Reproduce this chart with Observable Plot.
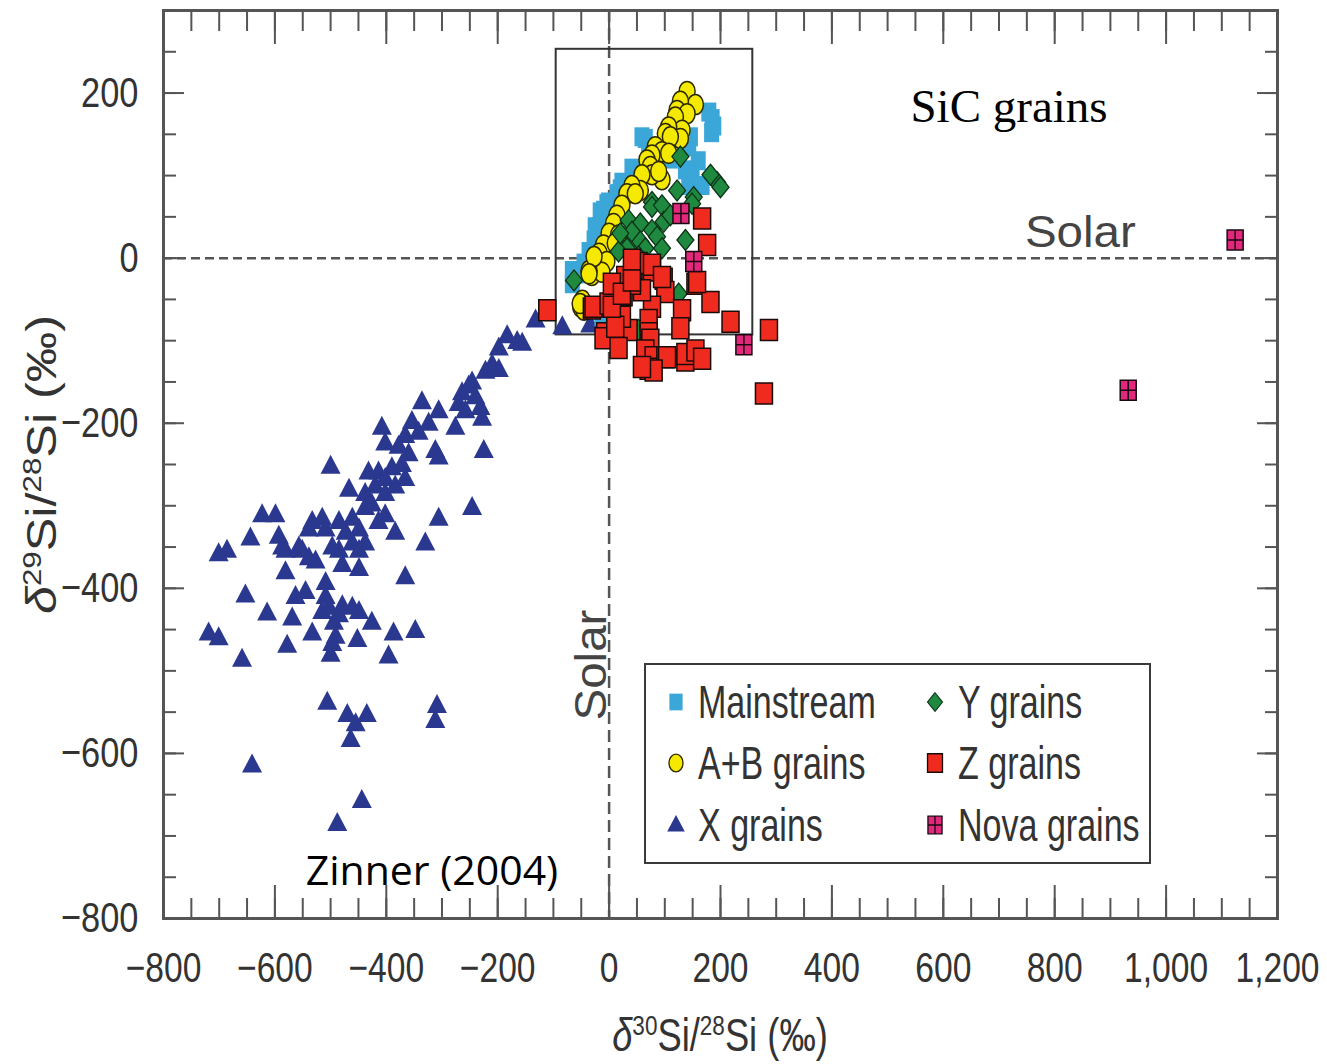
<!DOCTYPE html>
<html><head><meta charset="utf-8">
<script src="https://cdn.jsdelivr.net/npm/d3@7"></script>
<script src="https://cdn.jsdelivr.net/npm/@observablehq/plot@0.6"></script>
<style>
body{margin:0;background:#fff;}
#wrap{position:relative;width:1327px;height:1064px;background:#fff;}
#legend{position:absolute;left:644px;top:663px;width:507px;height:201px;box-sizing:border-box;border:2.5px solid #3a3a3a;background:#fff;font-family:"Liberation Sans",Arial,sans-serif;color:#333;}
.sw{position:absolute;width:30px;height:30px;}
.lt{position:absolute;font-size:46px;line-height:46px;white-space:nowrap;transform:scaleX(0.74);transform-origin:left center;}
#xtitle{position:absolute;left:720px;top:1035px;font-family:"Liberation Sans",Arial,sans-serif;font-size:46px;line-height:46px;color:#333;white-space:nowrap;transform:translate(-50%,-50%) scaleX(0.79);}
#xtitle sup{font-size:0.62em;vertical-align:0.55em;line-height:0;}
</style></head>
<body><div id="wrap"></div>
<script>
// ---- data (δ30Si/28Si, δ29Si/28Si in ‰) ----
const mainstream = [[185,169],[188,160],[179,177],[184,152],[146,147],[143,135],[65,145],[71,135],[59,147],[41,109],[137,107],[149,97],[143,88],[167,88],[20,84],[23,92],[14,78],[-1,68],[17,78],[-4,66],[-13,50],[-18,38],[-16,56],[-10,58],[-25,38],[-27,22],[-36,8],[-45,-6],[-54,-19],[-60,-19],[-66,-31],[-66,-15],[-13,-71],[110,120],[160,118]];
const abGrains = [[140,202],[155,186],[128,190],[122,179],[140,175],[119,171],[131,155],[107,159],[128,145],[101,151],[110,147],[83,135],[95,129],[77,125],[68,119],[107,127],[74,111],[95,95],[77,101],[59,101],[56,82],[41,88],[32,78],[89,105],[47,78],[23,64],[14,52],[8,42],[0,30],[-10,16],[-18,6],[-25,-8],[-31,-21],[17,28],[11,18],[-4,-4],[-13,-17],[-36,-15],[-27,2],[-36,-19],[-48,-51],[-51,-59],[-45,-63],[-52,-55]];
const xGrains = [[-132,-75],[-84,-83],[-34,-81],[-156,-103],[-183,-94],[-165,-101],[-198,-109],[-210,-129],[-198,-135],[-222,-137],[-252,-155],[-264,-163],[-240,-168],[-231,-181],[-270,-176],[-246,-150],[-258,-185],[-228,-194],[-276,-205],[-225,-233],[-336,-174],[-306,-185],[-354,-198],[-324,-200],[-342,-211],[-366,-215],[-408,-205],[-402,-224],[-378,-228],[-312,-233],[-306,-241],[-360,-237],[-372,-250],[-390,-254],[-414,-259],[-432,-259],[-402,-267],[-366,-267],[-420,-276],[-438,-285],[-402,-285],[-384,-276],[-500,-252],[-467,-280],[-246,-302],[-306,-315],[-330,-345],[-426,-298],[-402,-311],[-414,-319],[-438,-302],[-461,-315],[-449,-328],[-473,-332],[-485,-319],[-461,-345],[-438,-345],[-449,-354],[-485,-354],[-497,-350],[-509,-328],[-515,-315],[-533,-319],[-539,-328],[-384,-332],[-623,-311],[-599,-311],[-644,-339],[-593,-337],[-587,-350],[-581,-354],[-701,-358],[-686,-354],[-551,-354],[-539,-363],[-527,-367],[-557,-350],[-479,-371],[-449,-376],[-581,-380],[-366,-386],[-653,-408],[-614,-430],[-563,-410],[-545,-404],[-509,-393],[-509,-410],[-503,-423],[-569,-436],[-515,-428],[-479,-421],[-461,-423],[-485,-432],[-449,-428],[-426,-441],[-494,-441],[-491,-458],[-533,-454],[-497,-467],[-387,-454],[-348,-451],[-719,-454],[-701,-460],[-578,-469],[-452,-462],[-659,-486],[-500,-480],[-396,-482],[-506,-538],[-470,-553],[-435,-553],[-455,-564],[-464,-583],[-309,-542],[-312,-560],[-641,-614],[-444,-657],[-488,-685]];
const yGrains = [[128,123],[194,92],[182,101],[200,86],[122,82],[152,74],[77,68],[149,66],[77,62],[95,64],[35,46],[56,42],[98,44],[77,34],[41,32],[86,26],[137,22],[56,20],[95,12],[32,12],[65,12],[17,8],[53,2],[-63,-27],[125,-43],[53,-87],[110,52],[20,30]];
const zGrains = [[-111,-63],[-31,-61],[-28,-59],[44,-12],[77,-15],[98,-25],[101,-41],[155,-31],[182,-53],[131,-63],[77,-59],[11,-51],[26,-45],[-1,-55],[17,-75],[35,-87],[-7,-91],[-10,-97],[17,-109],[71,-75],[71,-91],[74,-99],[65,-112],[80,-120],[71,-134],[101,-120],[104,-120],[128,-85],[137,-124],[137,-116],[155,-112],[167,-122],[218,-77],[287,-87],[278,-164],[59,-39],[53,-6],[29,-23],[5,-31],[41,-31],[23,-71],[11,-83],[167,48],[176,16],[41,-2],[77,-8],[95,-23],[158,-29],[80,-136],[59,-132],[5,-59],[23,-43],[41,-27]];
const novaGrains = [[129,54],[152,-4],[242,-105],[1124,22],[932,-160]];
const solarBox = [{x1:-95, x2:258, y1:-93, y2:253}];
const minorTicksX = d3.range(-800, 1201, 50);
const majorTicksX = d3.range(-800, 1201, 200);
const minorTicksY = d3.range(-800, 301, 50);
const majorTicksY = d3.range(-800, 201, 200);
const solarLabels = [{text:"Solar", x:846, y:30, rotate:0}, {text:"Solar", x:-30, y:-493, rotate:-90}];
const titleNote = [{text:"SiC grains", x:718, y:183}];
const sourceNote = [{text:"Zinner (2004)", x:-318, y:-744}];
const xTitleParts = [["δ","i"],["30","sup"],["Si/",""],["28","sup"],["Si (‰)",""]];
const yTitle = ["δ29Si/28Si (‰)"];
const legendItems = [
  {label:"Mainstream", key:"ms", col:0, row:0},
  {label:"A+B grains", key:"ab", col:0, row:1},
  {label:"X grains", key:"x", col:0, row:2},
  {label:"Y grains", key:"y", col:1, row:0},
  {label:"Z grains", key:"z", col:1, row:1},
  {label:"Nova grains", key:"nova", col:1, row:2}
];

// ---- marker shapes ----
const symSquare = {draw(c){ c.rect(-7.5,-9.5,15,19); }};
const symEllipse = {draw(c){ const rx=8, ry=10, k=0.5523; c.moveTo(rx,0); c.bezierCurveTo(rx,ry*k,rx*k,ry,0,ry); c.bezierCurveTo(-rx*k,ry,-rx,ry*k,-rx,0); c.bezierCurveTo(-rx,-ry*k,-rx*k,-ry,0,-ry); c.bezierCurveTo(rx*k,-ry,rx,-ry*k,rx,0); c.closePath(); }};
const symTriangle = {draw(c){ c.moveTo(0,-11.5); c.lineTo(10,7.5); c.lineTo(-10,7.5); c.closePath(); }};
const symDiamond = {draw(c){ c.moveTo(0,-10.5); c.lineTo(8.5,0); c.lineTo(0,10.5); c.lineTo(-8.5,0); c.closePath(); }};
const symRect = {draw(c){ c.rect(-8.5,-10.5,17,21); }};
const symNova = {draw(c){ c.rect(-8,-10,16,20); c.moveTo(0,-10); c.lineTo(0,10); c.moveTo(-8,0); c.lineTo(8,0); }};
const styles = {
  ms:{symbol:symSquare, fill:"#3ba7d8", stroke:"none", strokeWidth:0},
  ab:{symbol:symEllipse, fill:"#f5e900", stroke:"#2e2a00", strokeWidth:1.5},
  x:{symbol:symTriangle, fill:"#2b388f", stroke:"none", strokeWidth:0},
  y:{symbol:symDiamond, fill:"#1f8a3f", stroke:"#0c3318", strokeWidth:1.3},
  z:{symbol:symRect, fill:"#ee2b1e", stroke:"#1a0a08", strokeWidth:1.5},
  nova:{symbol:symNova, fill:"#e2287c", stroke:"#1a0a10", strokeWidth:1.5}
};
const pt = (key) => ({x: d => d[0], y: d => d[1], symbol: styles[key].symbol, fill: styles[key].fill, stroke: styles[key].stroke, strokeWidth: styles[key].strokeWidth});

const axisColor = "#555";
const plot = Plot.plot({
  width: 1327, height: 1064,
  marginLeft: 163, marginRight: 50, marginTop: 10, marginBottom: 146,
  x: {domain: [-800, 1200]},
  y: {domain: [-800, 300]},
  style: {fontFamily: "'Liberation Sans', Arial, sans-serif", background: "white"},
  marks: [
    Plot.ruleY([0], {stroke: "#555", strokeWidth: 2.5, strokeDasharray: "9,5"}),
    Plot.ruleX([0], {stroke: "#555", strokeWidth: 2.5, strokeDasharray: "12,6"}),
    Plot.rect(solarBox, {x1:"x1", x2:"x2", y1:"y1", y2:"y2", fill:"none", stroke:"#333", strokeWidth:2}),
    Plot.dot(xGrains, pt("x")),
    Plot.dot(mainstream, pt("ms")),
    Plot.dot(abGrains, pt("ab")),
    Plot.dot(yGrains, pt("y")),
    Plot.dot(zGrains, pt("z")),
    Plot.dot(novaGrains, pt("nova")),
    Plot.frame({stroke: axisColor, strokeWidth: 3}),
    // inward ticks on all four sides
    Plot.axisX({anchor:"bottom", ticks: minorTicksX, tickSize:-20, fill:"none", label:null, stroke:axisColor, strokeWidth:2}),
    Plot.axisX({anchor:"bottom", ticks: majorTicksX, tickSize:-33, fill:"none", label:null, stroke:axisColor, strokeWidth:2}),
    Plot.axisX({anchor:"top", ticks: minorTicksX, tickSize:-20, fill:"none", label:null, stroke:axisColor, strokeWidth:2}),
    Plot.axisX({anchor:"top", ticks: majorTicksX, tickSize:-33, fill:"none", label:null, stroke:axisColor, strokeWidth:2}),
    Plot.axisY({anchor:"left", ticks: minorTicksY, tickSize:-13, fill:"none", label:null, stroke:axisColor, strokeWidth:2}),
    Plot.axisY({anchor:"left", ticks: majorTicksY, tickSize:-21, fill:"none", label:null, stroke:axisColor, strokeWidth:2}),
    Plot.axisY({anchor:"right", ticks: minorTicksY, tickSize:-13, fill:"none", label:null, stroke:axisColor, strokeWidth:2}),
    Plot.axisY({anchor:"right", ticks: majorTicksY, tickSize:-21, fill:"none", label:null, stroke:axisColor, strokeWidth:2}),
    // tick labels
    Plot.axisX({anchor:"bottom", ticks: majorTicksX, tickSize:0, tickPadding:34, tickFormat:d3.format(","), fontSize:42, fill:"#333", label:null}),
    Plot.axisY({anchor:"left", ticks: majorTicksY, tickSize:0, tickPadding:25, tickFormat:d3.format(","), fontSize:43, fill:"#333", label:null}),
    // titles and annotations
    Plot.text(yTitle, {text: d => d, frameAnchor:"left", dx:-121, rotate:-90, textAnchor:"middle", lineAnchor:"middle", fontSize:42, fill:"#333"}),
    Plot.text(solarLabels, {x:"x", y:"y", text:"text", rotate:"rotate", fontSize:44, fill:"#444"}),
    Plot.text(titleNote, {x:"x", y:"y", text:"text", fontSize:47, fill:"#000", fontFamily:"'Liberation Serif', 'Times New Roman', serif"}),
    Plot.text(sourceNote, {x:"x", y:"y", text:"text", fontSize:41, fill:"#000", fontFamily:"'Open Sans', sans-serif"})
  ]
});

const wrap = document.getElementById("wrap");
wrap.appendChild(plot);

// superscript the isotope numbers in the y-axis title
const SVGNS = "http://www.w3.org/2000/svg";
d3.select(plot).selectAll("text").each(function() {
  const s = this.textContent;
  if (s !== yTitle[0]) return;
  while (this.firstChild) this.removeChild(this.firstChild);
  for (const part of s.match(/\d+|\D+/g)) {
    if (part.startsWith("δ")) {
      const d = document.createElementNS(SVGNS, "tspan");
      d.textContent = "δ"; d.setAttribute("font-style", "italic");
      this.appendChild(d);
      const rest = part.slice(1);
      if (rest) { const r = document.createElementNS(SVGNS, "tspan"); r.textContent = rest; this.appendChild(r); }
      continue;
    }
    const ts = document.createElementNS(SVGNS, "tspan");
    ts.textContent = part;
    if (/^\d+$/.test(part)) { ts.setAttribute("baseline-shift", "super"); ts.setAttribute("font-size", "0.62em"); }
    this.appendChild(ts);
  }
});

// condense / stretch text lengths to match the narrow Helvetica of the original
d3.select(plot).selectAll("text").each(function() {
  const s = this.textContent;
  if (s === "SiC grains" || s === "Zinner (2004)") return;
  const rotated = (this.getAttribute("transform") || "").includes("rotate");
  let f = 0.8;
  if (s === "Solar") f = 0.76;
  if (rotated) f = (s === yTitle[0]) ? 1.2 : 1.08;
  const L = this.getComputedTextLength();
  if (!(L > 0)) return;
  this.setAttribute("textLength", (L * f).toFixed(1));
  this.setAttribute("lengthAdjust", "spacingAndGlyphs");
});

// x-axis title
const xt = document.createElement("div");
xt.id = "xtitle";
for (const [t, kind] of xTitleParts) {
  const el = document.createElement(kind === "sup" ? "sup" : kind === "i" ? "i" : "span");
  el.textContent = t;
  xt.appendChild(el);
}
wrap.appendChild(xt);

// legend
const legend = document.createElement("div");
legend.id = "legend";
wrap.appendChild(legend);
const colSym = [32, 291], colText = [54, 314], rowY = [39, 100, 162];
for (const it of legendItems) {
  const s = styles[it.key];
  const svg = d3.create("svg").attr("class","sw").attr("viewBox","-15 -15 30 30")
    .style("left", (colSym[it.col] - 15 - 2.5) + "px").style("top", (rowY[it.row] - 15 - 2.5) + "px");
  svg.append("path").attr("d", d3.symbol(s.symbol)()).attr("transform","scale(0.88)")
    .attr("fill", s.fill).attr("stroke", s.stroke).attr("stroke-width", s.strokeWidth);
  legend.appendChild(svg.node());
  const sp = document.createElement("div");
  sp.className = "lt";
  sp.textContent = it.label;
  sp.style.left = (colText[it.col] - 2.5) + "px";
  sp.style.top = (rowY[it.row] - 23 - 2.5) + "px";
  legend.appendChild(sp);
}
</script>
</body></html>
